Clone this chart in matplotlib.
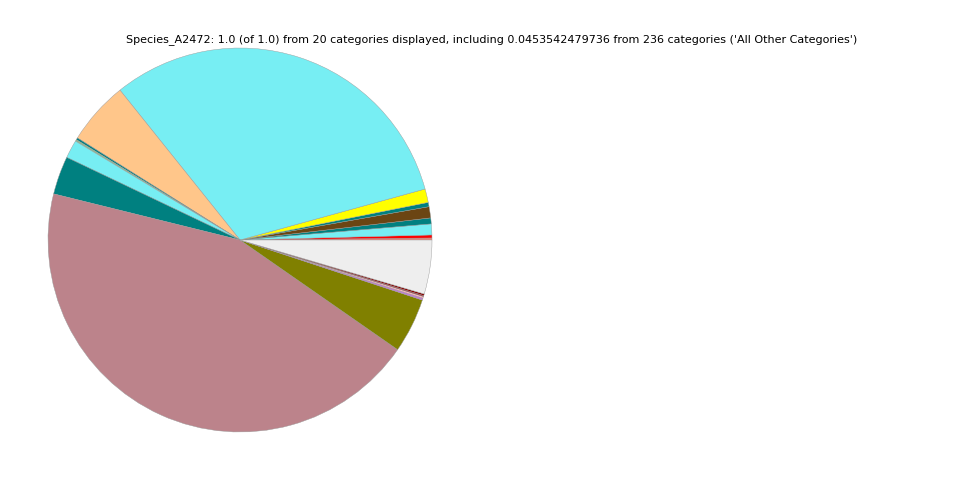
import matplotlib
matplotlib.use("Agg")
import matplotlib.pyplot as plt

# slice fractions, counterclockwise from 0 degrees
fractions = [0.0017, 0.0025, 0.0092, 0.0050, 0.0094, 0.0036, 0.0114,
             0.3147, 0.0533, 0.0017, 0.0014, 0.0153, 0.0322, 0.4419,
             0.0461, 0.0017, 0.0014, 0.0008, 0.0014, 0.0453542479736]
colors = ['#FA8072', '#FF0000', '#77EEF3', '#008080', '#6B4513', '#008080',
          '#FFFF00', '#77EEF3', '#FFC68A', '#008080', '#8FBC8F', '#77EEF3',
          '#008080', '#BC838B', '#808000', '#C080D0', '#FFB6C1', '#800000',
          '#8B0000', '#EEEEEE']
title = ("Species_A2472: 1.0 (of 1.0) from 20 categories displayed, including "
         "0.0453542479736 from 236 categories ('All Other Categories')")

fig = plt.figure(figsize=(9.6, 4.8), dpi=100)
ax = fig.add_axes([0, 0, 0.5, 1])
ax.pie(fractions, colors=colors, startangle=0, counterclock=True,
       wedgeprops={'linewidth': 0.3, 'edgecolor': '#999999'})
ax.set_aspect('equal')
fig.text(0.5125, 0.917, title, ha='center', va='center', fontsize=8)

fig.savefig('out.png', dpi=100)
